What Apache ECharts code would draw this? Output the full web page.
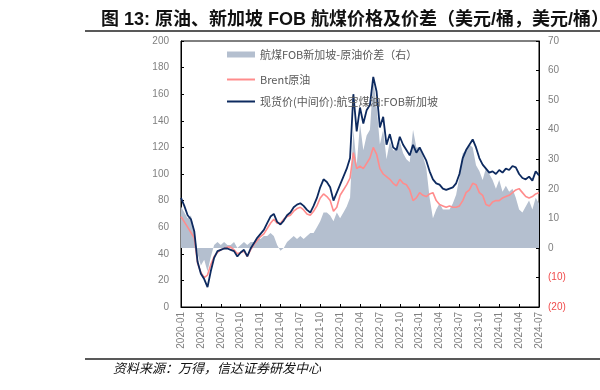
<!DOCTYPE html>
<html><head><meta charset="utf-8">
<script src="https://cdn.jsdelivr.net/npm/echarts@6/dist/echarts.min.js"></script>
<style>html,body{margin:0;padding:0;background:#fff;}#c{width:600px;height:390px;}</style>
</head><body><div id="c"></div>
<script>
// Semi-monthly observations (1st and 15th), 2020-01-01 .. 2024-07-01
const jetFuel = [82,76,69,66,57,34,25,21,15,27,37,42,43,44,44,43,42,38,41,43,38,44,48,52,55,58,63,68,70,64,62,65,69,71,75,77,78,76,73,71,76,82,90,96,94,90,80,86,92,98,104,112,160,132,150,138,148,152,173,162,135,143,122,130,120,118,128,122,118,114,122,116,
120,115,110,102,96,93,92,89,88,89,90,93,100,112,118,122,126,120,112,107,104,101,102,100,103,101,104,103,106,105,100,97,96,98,95,102,99];
const brent = [68,64,60,56,52,33,26,22,24,32,38,41,43,44,45,45,43,40,41,42,38,43,47,50,53,55,59,63,66,63,63,66,68,69,72,74,75,73,70,69,72,76,82,85,83,80,72,75,84,88,92,97,116,104,106,104,108,112,120,115,104,100,98,96,93,91,96,93,92,88,80,82,
86,84,83,85,86,80,77,76,75,76,75,75,76,80,86,88,93,92,86,84,77,76,79,80,80,82,83,84,86,88,89,86,83,82,83,85,86];
const spread = [14,12,10,11,6,-2,-6,-4,-8,-3,1,2,1,2,1,1,2,0,1,2,1,2,2,3,3,4,4,5,4,1,-1,0,2,3,4,3,4,3,4,5,5,7,9,12,12,11,9,12,10,12,14,17,40,28,42,33,38,40,57,48,35,40,30,36,33,33,36,32,30,29,40,34,
34,31,27,17,10,13,15,13,13,13,15,18,24,32,33,35,34,28,26,23,27,25,23,20,23,19,21,19,20,17,13,12,14,16,13,17,15];
const tickLabels = ['2020-01','2020-04','2020-07','2020-10','2021-01','2021-04','2021-07','2021-10','2022-01','2022-04','2022-07','2022-10','2023-01','2023-04','2023-07','2023-10','2024-01','2024-04','2024-07'];
const seriesNames = ['航煤FOB新加坡-原油价差（右）','Brent原油','现货价(中间价):航空煤油:FOB新加坡'];

const dates = [];
for (let y = 2020; y <= 2024; y++) {
  for (let m = 1; m <= 12; m++) {
    for (const d of ['01','15']) {
      if (dates.length < jetFuel.length) dates.push(y + '-' + String(m).padStart(2,'0') + '-' + d);
    }
  }
}
const isTick = (idx, val) => val.slice(8) === '01' && tickLabels.indexOf(val.slice(0,7)) >= 0;

const chart = echarts.init(document.getElementById('c'), null, {renderer:'canvas'});
const axisGray = '#7f7f7f';
chart.setOption({
  animation: false,
  title: {
    text: '图 13: 原油、新加坡 FOB 航煤价格及价差（美元/桶，美元/桶）',
    left: 96, top: 6,
    textStyle: {fontSize: 18, fontWeight: 'bold', color: '#111', fontFamily: 'Liberation Sans, Noto Sans CJK SC'}
  },
  graphic: [
    {type:'line', shape:{x1:85,y1:31,x2:600,y2:31}, style:{stroke:'#222', lineWidth:1.5}},
    {type:'line', shape:{x1:85,y1:359,x2:600,y2:359}, style:{stroke:'#222', lineWidth:1.5}},
    {type:'text', left:113, top:362, style:{text:'资料来源：万得，信达证券研发中心', fontSize:13, fontStyle:'italic', fill:'#111', fontFamily:'Noto Sans CJK SC'}}
  ],
  grid: {left:181, right:61, top:41, bottom:83, show:true, borderColor:'#000', borderWidth:1},
  legend: [
    {data:[seriesNames[0]], left:227, top:49, padding:0, orient:'vertical', icon:'rect', itemWidth:28, itemHeight:6,
     textStyle:{fontSize:11, color:'#595959', fontFamily:'Noto Sans CJK SC'}},
    {data:[seriesNames[1], seriesNames[2]], left:227, top:74, padding:0, orient:'vertical', icon:'rect', itemWidth:28, itemHeight:2, itemGap:11,
     textStyle:{fontSize:11, color:'#595959', fontFamily:'Noto Sans CJK SC'}}
  ],
  xAxis: {
    type:'category', data:dates, boundaryGap:false,
    axisLine:{lineStyle:{color:'#000'}},
    axisTick:{inside:true, length:3, interval:isTick, lineStyle:{color:'#000'}},
    axisLabel:{interval:isTick, rotate:90, fontSize:10, color:axisGray, margin:5, fontFamily:'Liberation Sans',
      formatter: v => v.slice(0,7)}
  },
  yAxis: [
    {type:'value', min:0, max:200, interval:20, splitLine:{show:false},
     axisLine:{show:true, lineStyle:{color:'#000'}}, axisTick:{show:true, inside:true, length:3, lineStyle:{color:'#000'}},
     axisLabel:{fontSize:10, color:axisGray, margin:12, fontFamily:'Liberation Sans'}},
    {type:'value', min:-20, max:70, interval:10, splitLine:{show:false},
     axisLine:{show:true, lineStyle:{color:'#000'}}, axisTick:{show:true, inside:true, length:3, lineStyle:{color:'#000'}},
     axisLabel:{fontSize:10, color:axisGray, margin:9, fontFamily:'Liberation Sans',
       formatter: v => v < 0 ? '{neg|(' + (-v) + ')}' : String(v),
       rich:{neg:{color:'#f04a4a', fontSize:10, fontFamily:'Liberation Sans'}}}}
  ],
  series: [
    {name:seriesNames[0], type:'line', yAxisIndex:1, data:spread, symbol:'none', color:'#b4bfcf',
     lineStyle:{width:0}, areaStyle:{color:'#b4bfcf', opacity:1, origin:0}, z:1},
    {name:seriesNames[1], type:'line', data:brent, symbol:'none', color:'#ff8c8c', lineStyle:{width:1.6, color:'#ff8c8c'}, z:2},
    {name:seriesNames[2], type:'line', data:jetFuel, symbol:'none', color:'#0d2a5f', lineStyle:{width:1.8, color:'#0d2a5f'}, z:3}
  ]
});
</script>
</body></html>
